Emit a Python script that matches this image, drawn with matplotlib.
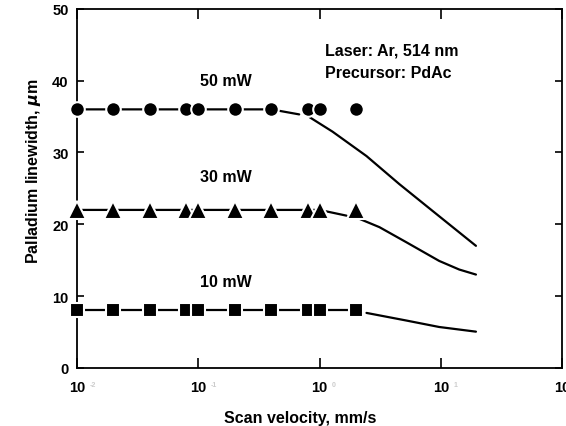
import numpy as np
import matplotlib.pyplot as plt

plt.rcParams['font.family'] = ['Liberation Sans', 'DejaVu Sans']
plt.rcParams['font.weight'] = 'bold'

# Measured points (scan velocity in mm/s, linewidth in um)
velocity = [0.01, 0.02, 0.04, 0.08, 0.1, 0.2, 0.4, 0.8, 1.0, 2.0]
width_50 = [36, 36, 36, 36, 36, 36, 36, 36, 36, 36]
width_30 = [22, 22, 22, 22, 22, 22, 22, 22, 22, 22]
width_10 = [8, 8, 8, 8, 8, 8, 8, 8, 8, 8]

# Drawn lines: flat part + small dip, then model curve
flat50_x = [0.01, 0.4, 0.68]
flat50_y = [36, 36, 35.3]
fit50_x = [0.83, 1.28, 2.44, 4.55, 8.5, 19.5]
fit50_y = [34.9, 32.9, 29.5, 25.6, 21.9, 17.0]

flat30_x = [0.01, 1.0, 1.67]
flat30_y = [22, 22, 21.2]
fit30_x = [2.14, 3.12, 5.2, 9.7, 14.2, 19.5]
fit30_y = [20.75, 19.6, 17.5, 14.9, 13.7, 13.0]

flat10_x = [0.01, 2.0]
flat10_y = [8, 8]
fit10_x = [2.44, 5.2, 9.7, 19.5]
fit10_y = [7.66, 6.6, 5.7, 5.05]

fig = plt.figure(figsize=(5.66, 4.27), dpi=100)
ax = fig.add_axes([0.136, 0.136, 0.857, 0.841])

lw = 1.6
for fx, fy in [(flat50_x, flat50_y), (fit50_x, fit50_y),
               (flat30_x, flat30_y), (fit30_x, fit30_y),
               (flat10_x, flat10_y), (fit10_x, fit10_y)]:
    ax.plot(fx, fy, color='black', lw=lw, zorder=2, solid_capstyle='round')

mk = dict(linestyle='none', color='black', markeredgecolor='white', zorder=3, clip_on=False)
ax.plot(velocity, width_50, marker='o', markersize=10.5, markeredgewidth=1.5, **mk)
ax.plot(velocity, width_30, marker='^', markersize=12.5, markeredgewidth=1.5, **mk)
ax.plot(velocity, width_10, marker='s', markersize=10, markeredgewidth=1.5, **mk)

ax.set_xscale('log')
ax.set_xlim(0.01, 100)
ax.set_ylim(0, 50)
ax.set_yticks([0, 10, 20, 30, 40, 50])
ax.set_xticks([0.01, 0.1, 1, 10, 100])
ax.minorticks_off()
ax.set_xticklabels(['10'] * 5)
for e, xv in zip([-2, -1, 0, 1, 2], [0.01, 0.1, 1, 10, 100]):
    ax.annotate(str(e), xy=(xv, 0), xycoords=('data', 'axes fraction'),
                xytext=(9, -13), textcoords='offset points',
                fontsize=5, color='#cccccc', annotation_clip=False)

ax.tick_params(axis='x', which='both', direction='in', length=7, width=1.2,
               top=True, labelsize=10.5, pad=9)
ax.tick_params(axis='y', direction='in', length=5, width=1.2,
               right=True, labelsize=10.5, pad=6)
for s in ax.spines.values():
    s.set_linewidth(1.3)

ax.set_xlabel('Scan velocity, mm/s', fontsize=11.5, fontweight='bold')
ax.set_ylabel(r'Palladium linewidth, $\mu$m', fontsize=11.5, fontweight='bold')
ax.yaxis.set_label_coords(-0.07, 0.55)
ax.xaxis.set_label_coords(0.46, -0.118)

ax.text(0.17, 40, '50 mW', fontsize=11.5, ha='center', va='center')
ax.text(0.17, 26.7, '30 mW', fontsize=11.5, ha='center', va='center')
ax.text(0.17, 12.1, '10 mW', fontsize=11.5, ha='center', va='center')
ax.text(1.1, 44.2, 'Laser: Ar, 514 nm', fontsize=11.5, va='center')
ax.text(1.1, 41.2, 'Precursor: PdAc', fontsize=11.5, va='center')

fig.savefig('out.png', dpi=100)
